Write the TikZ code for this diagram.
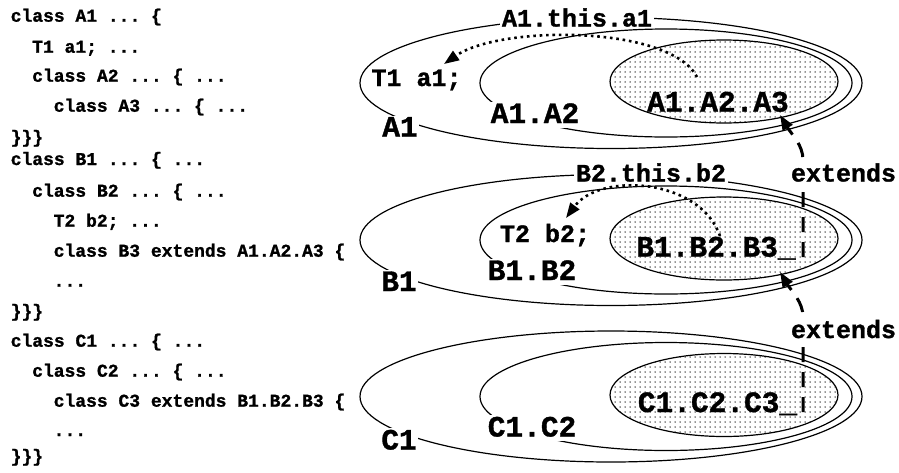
\documentclass[tikz,border=0pt]{standalone}
\usepackage{fontspec}
\setmonofont{Liberation Mono}[BoldFeatures={FakeBold=1.2}]
\usetikzlibrary{arrows.meta,patterns.meta}
\begin{document}
\begin{tikzpicture}[x=1pt,y=-1pt,
  code/.style={anchor=base west,inner sep=0pt,font=\ttfamily\bfseries\fontsize{18}{20}\selectfont},
  big/.style={anchor=base,inner sep=1.5pt,font=\ttfamily\bfseries\fontsize{29.5}{32}\selectfont},
  mid/.style={anchor=base,inner sep=1.5pt,font=\ttfamily\bfseries\fontsize{25}{28}\selectfont},
  mask/.style={fill=white},
  deep/.style={text depth=3pt},
  ring/.style={line width=1.2pt},
  core/.style={line width=1.2pt,pattern={Dots[distance=5pt,radius=0.75pt]},pattern color=black!85},
  ptr/.style={line width=2.6pt,dash pattern=on 2.6pt off 3.8pt,-{Triangle[length=15pt,width=11pt]}},
  ext/.style={line width=3pt,dash pattern=on 15pt off 10pt,-{Triangle[length=15pt,width=11pt]}},
]
\useasboundingbox (0,0) rectangle (899,472);

% ---- code listing
\node[code] (l1)  at (10.5,21.7)  {class A1 ... \{};
\node[code] (l2)  at (32,52.7)    {T1 a1; ...};
\node[code] (l3)  at (32,81.7)    {class A2 ... \{ ...};
\node[code] (l4)  at (53.5,111.7) {class A3 ... \{ ...};
\node[code] (l5)  at (10.5,143)   {\}\}\}};
\node[code] (l6)  at (10.5,165)   {class B1 ... \{ ...};
\node[code] (l7)  at (32,196.7)   {class B2 ... \{ ...};
\node[code] (l8)  at (53.5,226.7) {T2 b2; ...};
\node[code] (l9)  at (53.5,256.7) {class B3 extends A1.A2.A3 \{};
\node[code] (l10) at (53.5,286.7) {...};
\node[code] (l11) at (10.5,317)   {\}\}\}};
\node[code] (l12) at (10.5,346.7) {class C1 ... \{ ...};
\node[code] (l13) at (32,376.7)   {class C2 ... \{ ...};
\node[code] (l14) at (53.5,406.7) {class C3 extends B1.B2.B3 \{};
\node[code] (l15) at (53.5,436)   {...};
\node[code] (l16) at (10.5,462)   {\}\}\}};

% ---- group A
\draw[ring] (611,83) ellipse [x radius=251, y radius=65.5];
\draw[ring] (666,83) ellipse [x radius=186, y radius=54];
\draw[core] (724,81.5) ellipse [x radius=114, y radius=41.5];
% ---- group B
\draw[ring] (611,240) ellipse [x radius=251, y radius=65.5];
\draw[ring] (666,240) ellipse [x radius=186, y radius=54];
\draw[core] (724,238.5) ellipse [x radius=114, y radius=41.5];
% ---- group C
\draw[ring] (611,396.5) ellipse [x radius=251, y radius=65.5];
\draw[ring] (666,396.5) ellipse [x radius=186, y radius=54];
\draw[core] (724,395) ellipse [x radius=114, y radius=41.5];

% ---- labels
\node[mid,mask] (athis) at (577,26.5) {A1.this.a1};
\node[mid] (ta1) at (416.5,86) {T1 a1;};
\node[big,mask,deep] (la1) at (400,136.5) {A1};
\node[big,mask,deep] (la2) at (535,123) {A1.A2};
\node[big] (la3) at (718,111.5) {A1.A2.A3};

\node[mid,mask] (bthis) at (651,181.5) {B2.this.b2};
\node[mid] (tb2) at (545,242) {T2 b2;};
\node[big,mask,deep] (lb1) at (399,291) {B1};
\node[big,mask,deep] (lb2) at (532,280) {B1.B2};
\node[big] (lb3) at (716,256.5) {B1.B2.B3\_};

\node[big,mask,deep] (lc1) at (399,449.5) {C1};
\node[big,mask,deep] (lc2) at (532,436.5) {C1.C2};
\node[big] (lc3) at (717.5,412) {C1.C2.C3\_};

% ---- access arrows (dotted)
\coordinate (pa) at (697,77);
\coordinate (qa) at (444,64);
\draw[ptr] (pa) .. controls (670,25) and (500,25) .. (qa);
\coordinate (pb) at (720,236);
\coordinate (qb) at (566,218);
\draw[ptr] (pb) .. controls (700,178) and (600,172) .. (qb);

% ---- extends connectors
\coordinate (sb) at (803,257);
\coordinate (kb) at (803,160);
\coordinate (ta) at (780,115);
\draw[ext] (sb) -- (kb) .. controls (803,145) and (792,135) .. (ta);
\coordinate (sc) at (803,412);
\coordinate (kc) at (803,317);
\coordinate (tb) at (780,272);
\draw[ext] (sc) -- (kc) .. controls (803,302) and (792,292) .. (tb);

\node[mid,mask,inner sep=2pt] (ext1) at (843.5,181.5) {extends};
\node[mid,mask,inner sep=2pt] (ext2) at (843.5,338) {extends};
\end{tikzpicture}
\end{document}
